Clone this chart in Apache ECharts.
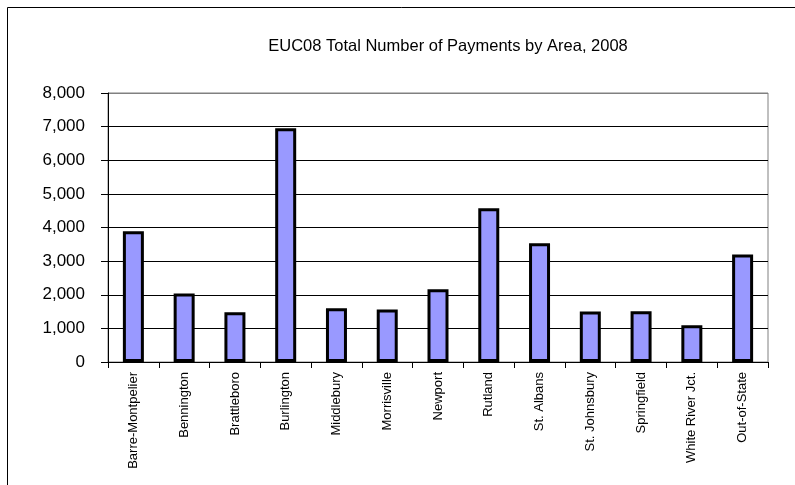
<!DOCTYPE html>
<html>
<head>
<meta charset="utf-8">
<script src="https://cdn.jsdelivr.net/npm/echarts@6/dist/echarts.min.js"></script>
<style>
  html, body { margin: 0; padding: 0; background: #fff; }
  #chart { width: 795px; height: 485px; }
</style>
</head>
<body>
<div id="chart"></div>
<script>
// areas on the x axis
var areas = ['Barre-Montpelier', 'Bennington', 'Brattleboro', 'Burlington', 'Middlebury',
  'Morrisville', 'Newport', 'Rutland', 'St. Albans', 'St. Johnsbury', 'Springfield',
  'White River Jct.', 'Out-of-State'];
// total payments
var payments = [3890, 2040, 1480, 6950, 1600, 1560, 2160, 4570, 3530, 1500, 1510, 1090, 3200];
var titleText = 'EUC08 Total Number of Payments by Area, 2008';
var yMax = 8000;
var yStep = 1000;

var chart = echarts.init(document.getElementById('chart'), null, { renderer: 'canvas' });

// 1000 -> "1,000"
function fmt(v) {
  return String(v).replace(/\B(?=(\d{3})+(?!\d))/g, ',');
}

// gridlines black, top one grey like the plot frame
var gridColors = [];
for (var i = 0; i < yMax / yStep; i++) gridColors.push('#000');
gridColors.push('#808080');

var option = {
  backgroundColor: '#fff',
  animation: false,
  title: {
    text: titleText,
    left: 443,
    top: 33,
    textAlign: 'center',
    textStyle: {
      fontFamily: 'Liberation Sans',
      fontSize: 16.5,
      fontWeight: 'normal',
      color: '#000'
    }
  },
  grid: {
    left: 108,
    right: 27,
    top: 93,
    bottom: 123,
    show: true,
    borderColor: '#808080',
    borderWidth: 1
  },
  xAxis: {
    type: 'category',
    data: areas,
    axisLine: { lineStyle: { color: '#000', width: 1 } },
    axisTick: { show: true, length: 6, lineStyle: { color: '#000' } },
    axisLabel: {
      rotate: 90,
      margin: 10,
      interval: 0,
      color: '#000',
      fontFamily: 'Liberation Sans',
      fontSize: 13
    }
  },
  yAxis: {
    type: 'value',
    min: 0,
    max: yMax,
    interval: yStep,
    axisLine: { show: true, lineStyle: { color: '#000', width: 1 } },
    axisTick: { show: true, length: 7, lineStyle: { color: '#000' } },
    axisLabel: {
      margin: 23,
      color: '#000',
      fontFamily: 'Liberation Sans',
      fontSize: 17,
      formatter: fmt
    },
    splitLine: { show: true, lineStyle: { color: gridColors, width: 1 } }
  },
  series: [{
    type: 'bar',
    data: payments,
    barWidth: 21,
    itemStyle: {
      color: '#9999FF',
      borderColor: '#000',
      borderWidth: 3
    }
  }],
  graphic: [{
    type: 'rect',
    shape: { x: 7.5, y: 7.5, width: 820, height: 520 },
    style: { fill: 'none', stroke: '#000', lineWidth: 1 },
    silent: true,
    z: 100
  }]
};

chart.setOption(option);
</script>
</body>
</html>
